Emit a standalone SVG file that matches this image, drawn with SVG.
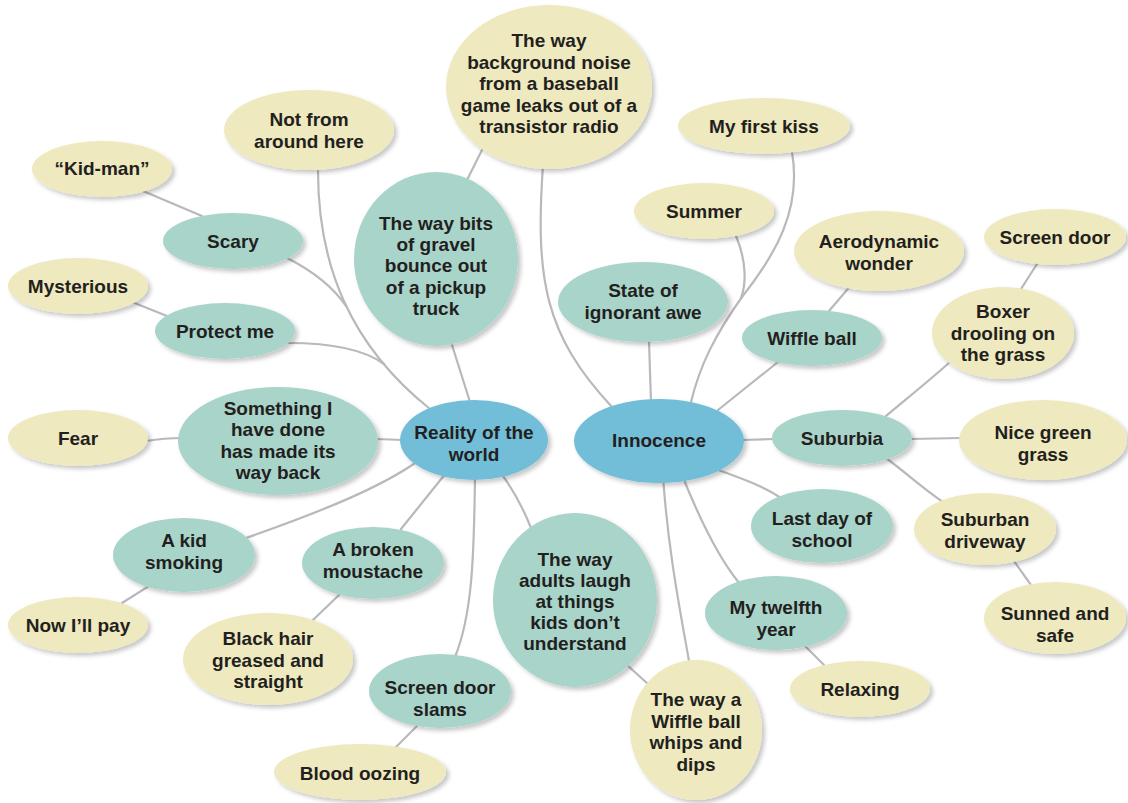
<svg xmlns="http://www.w3.org/2000/svg" width="1128" height="803" viewBox="0 0 1128 803">
<defs>
<filter id="sh" x="-20%" y="-20%" width="140%" height="140%">
<feDropShadow dx="3" dy="3" stdDeviation="2" flood-color="#000" flood-opacity="0.22"/>
</filter>
<style>
.y{fill:#EEE9BE;filter:url(#sh)}
.t{fill:#A8D4CA;filter:url(#sh)}
.b{fill:#72BED8;filter:url(#sh)}
text{font-family:"Liberation Sans",Arial,sans-serif;font-weight:bold;font-size:19px;fill:#231F20;text-anchor:middle}
.c path{fill:none;stroke:#B8B8BD;stroke-width:2.2;stroke-linecap:round}
</style>
</defs>
<rect width="1128" height="803" fill="#fff"/>
<g class="c" id="connectors">
<path d="M470,402 L452,345"/>
<path d="M467,180 L483,148"/>
<path d="M318,171 C318,265 350,345 430,409"/>
<path d="M287,258 C315,272 335,290 346,306"/>
<path d="M288,343 C330,343 365,350 384,364"/>
<path d="M143,191 L202,216"/>
<path d="M132,302 L167,316"/>
<path d="M146,441 Q165,438 182,438"/>
<path d="M376,439 L403,440"/>
<path d="M418,461 C380,488 320,512 246,538"/>
<path d="M149,586 L122,603"/>
<path d="M446,473 L401,529"/>
<path d="M340,594 L313,620"/>
<path d="M475,476 C474,560 472,615 455,657"/>
<path d="M417,726 L395,748"/>
<path d="M503,476 Q520,500 531,528"/>
<path d="M543,165 C535,280 545,335 612,407"/>
<path d="M649,341 L651,402"/>
<path d="M792,152 C802,210 775,255 742,297 C715,335 700,365 691,402"/>
<path d="M736,236 C747,262 746,285 741,298"/>
<path d="M718,410 L778,362"/>
<path d="M829,311 L852,284"/>
<path d="M741,440 L774,439"/>
<path d="M886,416 C905,400 930,380 950,362"/>
<path d="M1021,289 L1037,264"/>
<path d="M910,439 L961,438"/>
<path d="M886,458 C905,472 925,490 943,502"/>
<path d="M1014,561 L1031,585"/>
<path d="M710,467 C740,478 762,485 781,498"/>
<path d="M682,475 C700,520 720,560 740,584"/>
<path d="M663,476 C668,550 680,610 689,661"/>
<path d="M805,646 L824,665"/>
<path d="M627,665 L648,684"/>
</g>
<g id="n-radio"><ellipse class="y" cx="549" cy="87" rx="103" ry="82"/><text x="549" y="47">The way<tspan x="549" dy="21.5">background noise</tspan><tspan x="549" dy="21.5">from a baseball</tspan><tspan x="549" dy="21.5">game leaks out of a</tspan><tspan x="549" dy="21.5">transistor radio</tspan></text></g>
<g id="n-notfrom"><ellipse class="y" cx="309" cy="130" rx="85" ry="40"/><text x="309" y="126">Not from<tspan x="309" dy="21.5">around here</tspan></text></g>
<g id="n-kidman"><ellipse class="y" cx="102" cy="169" rx="70" ry="28"/><text x="102" y="175">“Kid-man”</text></g>
<g id="n-mysterious"><ellipse class="y" cx="78" cy="286" rx="70" ry="28"/><text x="78" y="293">Mysterious</text></g>
<g id="n-fear"><ellipse class="y" cx="78" cy="438" rx="70" ry="28"/><text x="78" y="445">Fear</text></g>
<g id="n-nowpay"><ellipse class="y" cx="78" cy="625" rx="70" ry="28"/><text x="78" y="632">Now I’ll pay</text></g>
<g id="n-blackhair"><ellipse class="y" cx="268" cy="659" rx="85" ry="46"/><text x="268" y="645">Black hair<tspan x="268" dy="21.5">greased and</tspan><tspan x="268" dy="21.5">straight</tspan></text></g>
<g id="n-blood"><ellipse class="y" cx="360" cy="772" rx="86" ry="28"/><text x="360" y="780">Blood oozing</text></g>
<g id="n-kiss"><ellipse class="y" cx="764" cy="126" rx="86" ry="28"/><text x="764" y="133">My first kiss</text></g>
<g id="n-summer"><ellipse class="y" cx="704" cy="211" rx="70" ry="28"/><text x="704" y="218">Summer</text></g>
<g id="n-aero"><ellipse class="y" cx="879" cy="251" rx="85" ry="40"/><text x="879" y="248">Aerodynamic<tspan x="879" dy="21.5">wonder</tspan></text></g>
<g id="n-screendoor"><ellipse class="y" cx="1055" cy="237" rx="71" ry="28"/><text x="1055" y="244">Screen door</text></g>
<g id="n-boxer"><ellipse class="y" cx="1003" cy="333" rx="71" ry="46"/><text x="1003" y="318">Boxer<tspan x="1003" dy="21.5">drooling on</tspan><tspan x="1003" dy="21.5">the grass</tspan></text></g>
<g id="n-nicegreen"><ellipse class="y" cx="1043" cy="440" rx="84" ry="40"/><text x="1043" y="439">Nice green<tspan x="1043" dy="21.5">grass</tspan></text></g>
<g id="n-driveway"><ellipse class="y" cx="985" cy="529" rx="71" ry="36"/><text x="985" y="526">Suburban<tspan x="985" dy="21.5">driveway</tspan></text></g>
<g id="n-sunned"><ellipse class="y" cx="1055" cy="618" rx="71" ry="36"/><text x="1055" y="620">Sunned and<tspan x="1055" dy="21.5">safe</tspan></text></g>
<g id="n-relaxing"><ellipse class="y" cx="860" cy="689" rx="70" ry="28"/><text x="860" y="696">Relaxing</text></g>
<g id="n-wiffledips"><ellipse class="y" cx="696" cy="730" rx="66" ry="70"/><text x="696" y="706">The way a<tspan x="696" dy="21.5">Wiffle ball</tspan><tspan x="696" dy="21.5">whips and</tspan><tspan x="696" dy="21.5">dips</tspan></text></g>
<g id="n-scary"><ellipse class="t" cx="233" cy="241" rx="70" ry="28"/><text x="233" y="248">Scary</text></g>
<g id="n-protect"><ellipse class="t" cx="225" cy="331" rx="70" ry="28"/><text x="225" y="338">Protect me</text></g>
<g id="n-gravel"><ellipse class="t" cx="436" cy="259" rx="82" ry="87"/><text x="436" y="230">The way bits<tspan x="436" dy="21.2">of gravel</tspan><tspan x="436" dy="21.2">bounce out</tspan><tspan x="436" dy="21.2">of a pickup</tspan><tspan x="436" dy="21.2">truck</tspan></text></g>
<g id="n-something"><ellipse class="t" cx="278" cy="441" rx="100" ry="54"/><text x="278" y="415">Something I<tspan x="278" dy="21.3">have done</tspan><tspan x="278" dy="21.3">has made its</tspan><tspan x="278" dy="21.3">way back</tspan></text></g>
<g id="n-kidsmoking"><ellipse class="t" cx="184" cy="555" rx="71" ry="37"/><text x="184" y="547">A kid<tspan x="184" dy="21.5">smoking</tspan></text></g>
<g id="n-broken"><ellipse class="t" cx="373" cy="563" rx="71" ry="36"/><text x="373" y="556">A broken<tspan x="373" dy="21.5">moustache</tspan></text></g>
<g id="n-slams"><ellipse class="t" cx="440" cy="691" rx="71" ry="37"/><text x="440" y="694">Screen door<tspan x="440" dy="21.5">slams</tspan></text></g>
<g id="n-adults"><ellipse class="t" cx="575" cy="600" rx="82" ry="87"/><text x="575" y="566">The way<tspan x="575" dy="21">adults laugh</tspan><tspan x="575" dy="21">at things</tspan><tspan x="575" dy="21">kids don’t</tspan><tspan x="575" dy="21">understand</tspan></text></g>
<g id="n-stateof"><ellipse class="t" cx="643" cy="302" rx="85" ry="40"/><text x="643" y="297">State of<tspan x="643" dy="21.5">ignorant awe</tspan></text></g>
<g id="n-wiffleball"><ellipse class="t" cx="812" cy="338" rx="70" ry="28"/><text x="812" y="345">Wiffle ball</text></g>
<g id="n-suburbia"><ellipse class="t" cx="842" cy="438" rx="70" ry="28"/><text x="842" y="445">Suburbia</text></g>
<g id="n-lastday"><ellipse class="t" cx="822" cy="526" rx="71" ry="37"/><text x="822" y="525">Last day of<tspan x="822" dy="21.5">school</tspan></text></g>
<g id="n-twelfth"><ellipse class="t" cx="776" cy="613" rx="71" ry="37"/><text x="776" y="614">My twelfth<tspan x="776" dy="21.5">year</tspan></text></g>
<g id="n-reality"><ellipse class="b" cx="474" cy="440" rx="74" ry="40"/><text x="474" y="439">Reality of the<tspan x="474" dy="21.5">world</tspan></text></g>
<g id="n-innocence"><ellipse class="b" cx="659" cy="441" rx="85" ry="42"/><text x="659" y="447">Innocence</text></g>
</svg>
